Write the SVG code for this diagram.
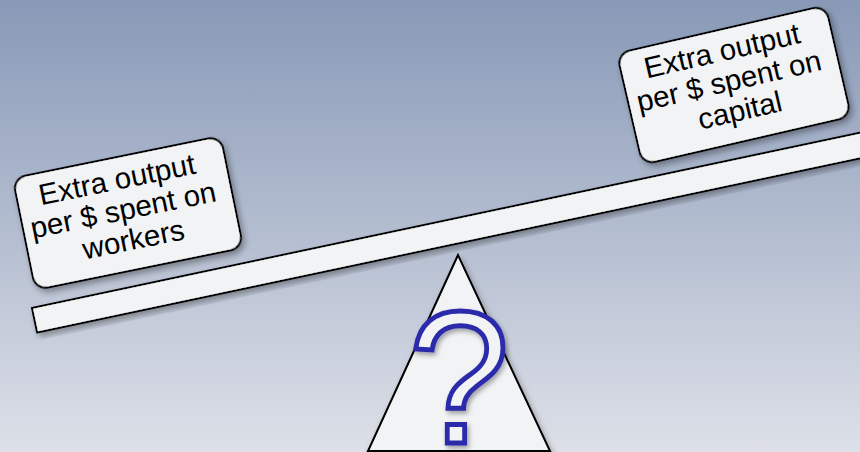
<svg xmlns="http://www.w3.org/2000/svg" width="860" height="452" viewBox="0 0 860 452">
  <defs>
    <linearGradient id="bg" x1="0" y1="0" x2="0" y2="1">
      <stop offset="0" stop-color="#8899b7"/>
      <stop offset="1" stop-color="#dde0e8"/>
    </linearGradient>
    <filter id="sh" x="-10%" y="-10%" width="130%" height="140%">
      <feDropShadow dx="2" dy="4" stdDeviation="3" flood-color="#000" flood-opacity="0.35"/>
    </filter>
    <filter id="qsh" x="-20%" y="-20%" width="150%" height="150%">
      <feDropShadow dx="2" dy="3" stdDeviation="2.5" flood-color="#000" flood-opacity="0.35"/>
    </filter>
  </defs>
  <style>
    .shape { fill: #f2f3f5; stroke: #000; stroke-width: 2; }
    .lbl { font-family: "Liberation Sans", Arial, sans-serif; font-size: 29.5px; fill: #000; text-anchor: middle; }
    .q { font-family: "Liberation Sans", Arial, sans-serif; font-size: 190px; fill: #f2f3f5; stroke: #2a2aaa; stroke-width: 5; text-anchor: middle; }
  </style>
  <rect width="860" height="452" fill="url(#bg)"/>

  <g id="fulcrum">
    <polygon class="shape" points="458,255 368,451 550,451" filter="url(#sh)"/>
    <text class="q" x="0" y="0" transform="translate(459 443) scale(0.96 1)" filter="url(#qsh)">?</text>
  </g>

  <g id="beam">
    <rect class="shape" x="32" y="308" width="880" height="25" transform="rotate(-11.95 32 308)" filter="url(#sh)"/>
  </g>

  <g id="workers" transform="translate(128 213) rotate(-11.5)">
    <rect class="shape" x="-106" y="-57" width="212" height="114" rx="13" filter="url(#sh)"/>
    <text class="lbl">
      <tspan x="0" y="-25">Extra output</tspan>
      <tspan x="0" y="6">per $ spent on</tspan>
      <tspan x="0" y="37">workers</tspan>
    </text>
  </g>

  <g id="capital" transform="translate(734 85) rotate(-13)">
    <rect class="shape" x="-107" y="-57" width="214" height="114" rx="13" filter="url(#sh)"/>
    <text class="lbl">
      <tspan x="0" y="-26">Extra output</tspan>
      <tspan x="0" y="5">per $ spent on</tspan>
      <tspan x="0" y="36">capital</tspan>
    </text>
  </g>
</svg>
